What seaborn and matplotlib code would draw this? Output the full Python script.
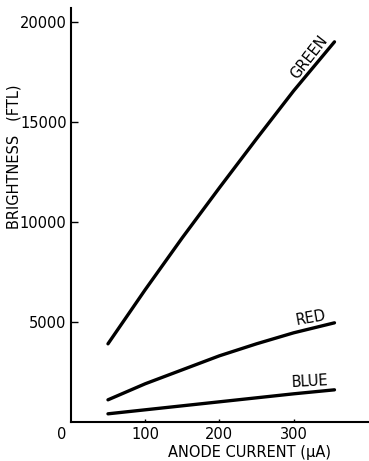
import numpy as np
import pandas as pd
import matplotlib
matplotlib.use("Agg")
import matplotlib.pyplot as plt
import seaborn as sns

current = [50, 100, 150, 200, 250, 300, 355]
green = [3900, 6600, 9200, 11700, 14150, 16550, 19000]
red = [1100, 1900, 2600, 3300, 3900, 4450, 4950]
blue = [400, 600, 800, 1000, 1200, 1400, 1600]
series = ["GREEN", "RED", "BLUE"]
xticks = [100, 200, 300]
yticks = [5000, 10000, 15000, 20000]

df = pd.DataFrame({
    "current": current * 3,
    "brightness": green + red + blue,
    "series": [s for s in series for _ in current],
})

sns.set_style("ticks")
plt.rcParams["font.family"] = ["DejaVu Sans"]
plt.rcParams["text.color"] = "black"
plt.rcParams["axes.labelcolor"] = "black"

fig = plt.figure(figsize=(3.69, 4.61), dpi=100)
ax = fig.add_axes([0.192, 0.085, 0.805, 0.898])
sns.lineplot(data=df, x="current", y="brightness", hue="series",
             palette={s: "black" for s in series}, linewidth=2.4,
             legend=False, ax=ax, sort=False)

ax.set_xlim(0, 400)
ax.set_ylim(0, 20700)
ax.set_xticks(xticks)
ax.set_yticks(yticks)
ax.set_xticklabels([str(v) for v in xticks])
ax.set_yticklabels([str(v) for v in yticks])
for s in ["top", "right"]:
    ax.spines[s].set_visible(False)
for s in ["left", "bottom"]:
    ax.spines[s].set_linewidth(1.5)
    ax.spines[s].set_color("black")
ax.tick_params(axis="y", direction="in", length=5, width=1, labelsize=10.5, pad=3, colors="black")
ax.tick_params(axis="x", direction="in", length=2, width=1, labelsize=10.5, pad=4, colors="black")

ax.text(-0.03, -0.012, "0", transform=ax.transAxes, ha="center", va="top", fontsize=10.5, color="black")

ax.set_ylabel("BRIGHTNESS   (FTL)", fontsize=10.5, color="black")
ax.yaxis.set_label_coords(-0.165, 0.64)
ax.set_xlabel("ANODE CURRENT (\u03bcA)", fontsize=10.5, color="black")
ax.xaxis.set_label_coords(0.60, -0.055)

ax.text(321, 18250, "GREEN", rotation=52, ha="center", va="center", fontsize=10.5, color="black")
ax.text(323, 5200, "RED", rotation=10, ha="center", va="center", fontsize=10.5, color="black")
ax.text(322, 2000, "BLUE", rotation=3, ha="center", va="center", fontsize=10.5, color="black")

fig.savefig("out.png", dpi=100)
